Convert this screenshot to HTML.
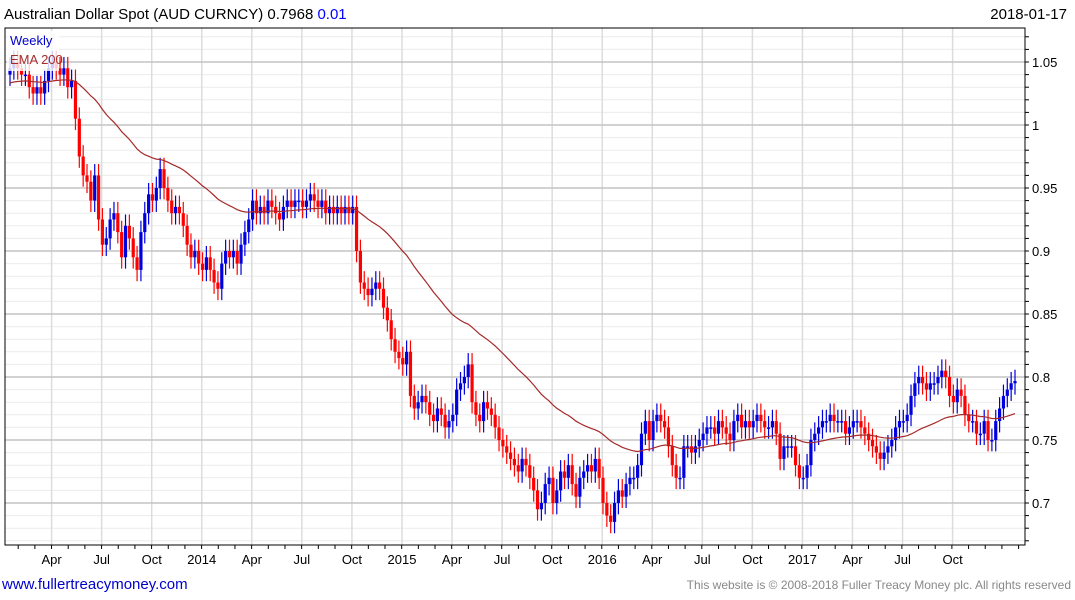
<!DOCTYPE html>
<html><head><meta charset="utf-8"><style>
body{margin:0;background:#fff;font-family:"Liberation Sans",sans-serif}
#wrap{position:relative;width:1075px;height:600px;overflow:hidden}
.t{position:absolute;white-space:nowrap}
</style></head><body>
<div id="wrap">
<div class="t" style="left:4px;top:6px;font-size:15px;color:#000">Australian Dollar Spot (AUD CURNCY) 0.7968 <span style="color:#0000ff">0.01</span></div>
<div class="t" style="right:8px;top:6px;font-size:15px;color:#000">2018-01-17</div>
<div class="t" style="left:2px;top:576px;font-size:15px;color:#0000cc">www.fullertreacymoney.com</div>
<div class="t" style="right:4px;top:578px;font-size:12px;color:#888">This website is © 2008-2018 Fuller Treacy Money plc. All rights reserved</div>
<svg id="c" width="1075" height="600" style="position:absolute;left:0;top:0"></svg>
</div>
<script>
const closes=[
1.045,1.05,1.045,1.04,1.04,1.03,1.025,1.03,1.025,1.035,1.045,1.05,1.045,
1.04,1.045,1.03,1.035,1.005,0.975,0.96,0.955,0.94,0.96,0.925,0.905,0.91,
0.925,0.93,0.915,0.895,0.92,0.91,0.895,0.885,0.915,0.93,0.945,0.94,0.95,
0.965,0.95,0.94,0.93,0.935,0.93,0.92,0.905,0.895,0.9,0.89,0.885,0.895,
0.885,0.875,0.87,0.89,0.9,0.895,0.9,0.89,0.905,0.915,0.925,0.94,0.93,
0.935,0.93,0.94,0.935,0.93,0.925,0.935,0.94,0.935,0.94,0.94,0.935,0.94,
0.945,0.94,0.935,0.94,0.93,0.935,0.93,0.935,0.93,0.935,0.93,0.935,0.9,
0.875,0.87,0.865,0.87,0.875,0.87,0.855,0.845,0.83,0.82,0.815,0.81,0.82,
0.785,0.775,0.78,0.785,0.78,0.77,0.765,0.775,0.77,0.76,0.765,0.77,0.79,
0.795,0.8,0.81,0.78,0.77,0.765,0.78,0.775,0.77,0.76,0.75,0.745,0.74,
0.735,0.73,0.725,0.735,0.73,0.72,0.71,0.695,0.7,0.715,0.72,0.7,0.71,
0.725,0.72,0.73,0.715,0.705,0.72,0.725,0.73,0.725,0.735,0.72,0.7,0.69,
0.685,0.7,0.71,0.705,0.715,0.72,0.72,0.73,0.755,0.765,0.75,0.765,0.77,
0.765,0.76,0.745,0.73,0.72,0.72,0.745,0.745,0.74,0.745,0.75,0.755,0.76,
0.76,0.755,0.765,0.76,0.755,0.75,0.765,0.77,0.76,0.765,0.76,0.765,0.77,
0.765,0.76,0.76,0.765,0.755,0.735,0.745,0.745,0.745,0.73,0.72,0.72,0.73,
0.75,0.755,0.76,0.765,0.765,0.77,0.765,0.765,0.765,0.755,0.76,0.765,0.765,
0.76,0.755,0.75,0.745,0.74,0.735,0.74,0.745,0.75,0.76,0.765,0.765,0.77,
0.785,0.795,0.8,0.795,0.79,0.795,0.795,0.8,0.805,0.8,0.785,0.78,0.79,
0.785,0.77,0.765,0.765,0.755,0.755,0.765,0.75,0.75,0.765,0.775,0.785,0.79,
0.795,0.7968];
const firstOpen=1.04;
const yTicks=[0.7,0.75,0.8,0.85,0.9,0.95,1,1.05];
const yTickLabels=["0.7","0.75","0.8","0.85","0.9","0.95","1","1.05"];
const xTickLabels=["Apr","Jul","Oct","2014","Apr","Jul","Oct","2015","Apr","Jul","Oct","2016","Apr","Jul","Oct","2017","Apr","Jul","Oct"];
const xTickWeeks=[10.8,23.8,36.8,49.8,62.8,75.8,88.8,101.8,114.8,127.8,140.8,153.8,166.8,179.8,192.8,205.8,218.8,231.8,244.8];

const L=5,R=1025,T=28,B=545;
const y=v=>62+(1.05-v)*1260;
const x0=10,step=(1015-10)/(closes.length-1);
const x=i=>x0+i*step;
const svg=document.getElementById('c');
const NS='http://www.w3.org/2000/svg';
function mk(tag,a){const e=document.createElementNS(NS,tag);for(const k in a)e.setAttribute(k,a[k]);svg.appendChild(e);return e;}
for(let v=0.67;v<=1.081;v+=0.01){const yy=y(v);if(yy<T||yy>B)continue;
 const g=mk('line',{x1:L,x2:R,y1:yy,y2:yy,stroke:'#ececec','stroke-width':1});
 
 const tk=mk('line',{x1:R,x2:R+4,y1:yy,y2:yy,stroke:'#000','stroke-width':1});
 }
xTickWeeks.forEach((w,k)=>{const xx=x(w);
 const g=mk('line',{x1:xx,x2:xx,y1:T,y2:B,stroke:'#dcdcdc','stroke-width':1.5});
 
 const t=mk('text',{x:xx,y:564,'font-size':13,'text-anchor':'middle',fill:'#000','font-family':'Liberation Sans, sans-serif'});
 t.textContent=xTickLabels[k];});
for(let i=-2.2;i<closes.length;i+=4.33){const xx=x(i);if(xx<L)continue;
 const tk=mk('line',{x1:xx,x2:xx,y1:B,y2:B+4,stroke:'#000','stroke-width':1});
 }
yTicks.forEach((v,k)=>{const yy=y(v);
 const g=mk('line',{x1:L,x2:R,y1:yy,y2:yy,stroke:'#c4c4c4','stroke-width':1.5});
 
 const t=mk('text',{x:1032,y:yy+5,'font-size':13,fill:'#000','font-family':'Liberation Sans, sans-serif'});
 t.textContent=yTickLabels[k];});
const fr=mk('rect',{x:L,y:T,width:R-L,height:B-T,fill:'none',stroke:'#000','stroke-width':1});

const W=0.009;
closes.forEach((c,i)=>{const o=i?closes[i-1]:firstOpen;const up=c>=o;const col=up?'#0000dd':'#ff0000';
 const hi=Math.max(o,c)+W,lo=Math.min(o,c)-W;const xx=x(i);
 const wk=mk('line',{x1:xx,x2:xx,y1:y(hi),y2:y(lo),stroke:col,'stroke-width':1.2});
 
 const top=y(Math.max(o,c)),h=Math.max(1.5,y(Math.min(o,c))-top);
 const b=mk('rect',{x:xx-1.6,y:top,width:3.2,height:h,fill:col});
 });
let e=1.033,pts=[];const a=2/51;
closes.forEach((c,i)=>{e=e+a*(c-e);pts.push(x(i).toFixed(1)+','+y(e).toFixed(1));});
const pl=mk('polyline',{points:pts.join(' '),fill:'none',stroke:'#a52a2a','stroke-width':1.2});

const bg=mk('rect',{x:7,y:31,width:52,height:40,fill:'#fff','fill-opacity':0.8});

const l1=mk('text',{x:10,y:45,'font-size':13,fill:'#0000cc','font-family':'Liberation Sans, sans-serif'});
l1.textContent='Weekly';
const l2=mk('text',{x:10,y:64,'font-size':13,fill:'#a52a2a','font-family':'Liberation Sans, sans-serif'});
l2.textContent='EMA 200';
</script>
</body></html>
